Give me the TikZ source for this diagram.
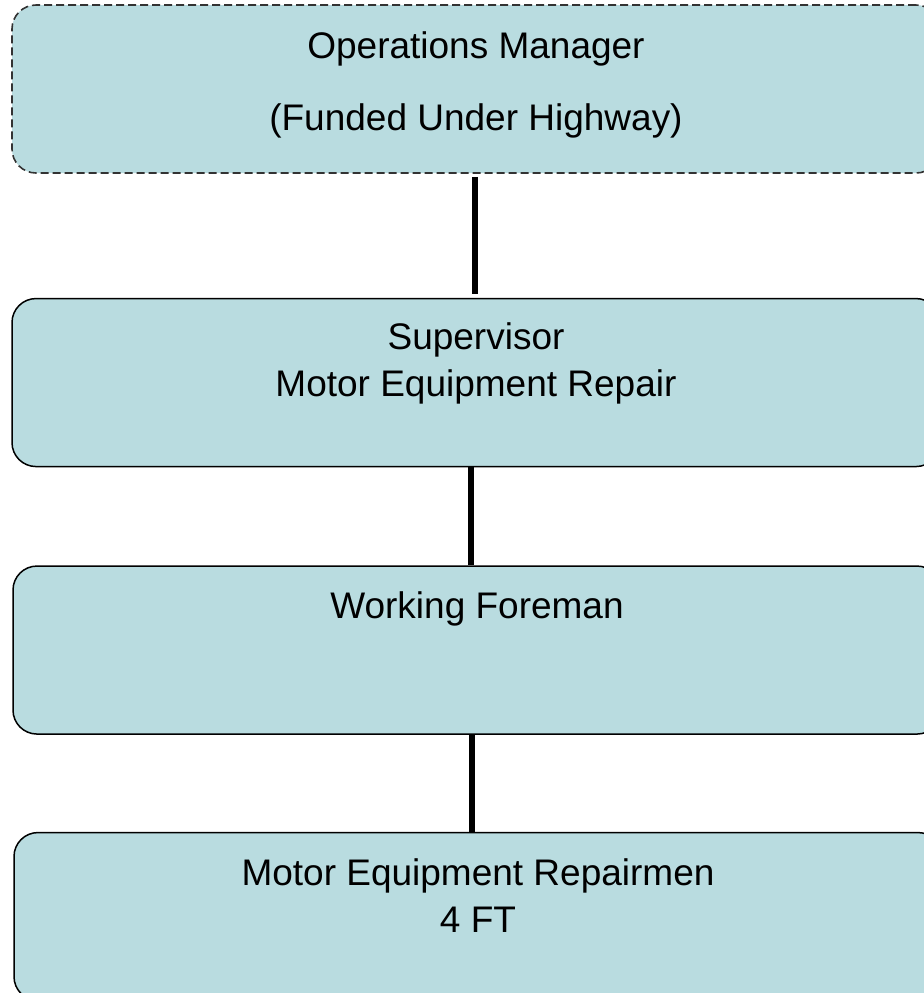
\documentclass[tikz,border=0pt]{standalone}
\usepackage{fontspec}
\setmainfont{Liberation Sans}
\usetikzlibrary{positioning}
\definecolor{boxfill}{RGB}{185,220,224}
\tikzstyle{block} = [draw, rectangle, rounded corners=12pt, fill=boxfill, line width=0.75pt, minimum width=464pt, minimum height=84pt, inner sep=0pt]
\tikzstyle{dashblock} = [block, draw=black!80, line width=0.8pt, dash pattern=on 4pt off 2pt]
\tikzstyle{caption} = [align=center, inner sep=0pt, anchor=north, font=\fontsize{18.5}{23.5}\selectfont]
\tikzstyle{link} = [line width=3pt]

\begin{document}
\begin{tikzpicture}[x=0.5pt, y=-0.5pt]
    \useasboundingbox (0,0) rectangle (924,993);
    \clip (0,0) rectangle (924,993);
    \node[dashblock, name=ops] at (476,89) {};
    \node[block, below=62pt of ops, name=sup] {};
    \node[block, below=49pt of sup, xshift=0.5pt, name=work] {};
    \node[block, below=48.5pt of work, xshift=0.5pt, name=rep] {};

    \node[caption, name=opstext] at ([yshift=-13.5pt]ops.north) {Operations Manager\\[12.5pt](Funded Under Highway)};
    \node[caption, name=suptext] at ([yshift=-12pt]sup.north) {Supervisor\\Motor Equipment Repair};
    \node[caption, name=worktext] at ([yshift=-13pt]work.north) {Working Foreman};
    \node[caption, name=reptext] at ([yshift=-13pt]rep.north) {Motor Equipment Repairmen\\4 FT};

    \draw[link, shorten <=1.5pt, shorten >=2pt] ([xshift=-0.5pt]ops.south) -- ([xshift=-0.5pt]sup.north);
    \draw[link] ([xshift=-2.5pt]sup.south) -- ([xshift=-3pt]work.north);
    \draw[link] ([xshift=-2.5pt]work.south) -- ([xshift=-3pt]rep.north);
\end{tikzpicture}
\end{document}
